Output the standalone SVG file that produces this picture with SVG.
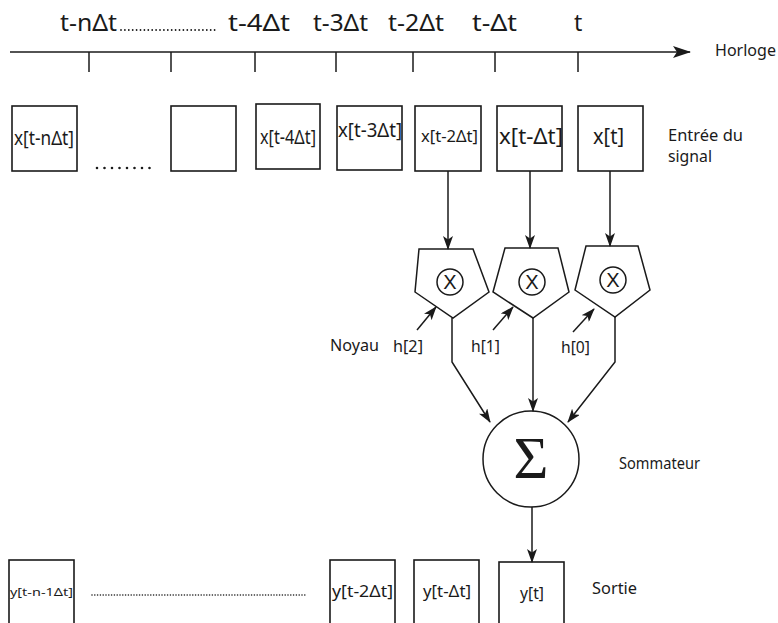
<svg xmlns="http://www.w3.org/2000/svg" width="778" height="623" viewBox="0 0 778 623">
<defs>
<marker id="ah" markerWidth="14" markerHeight="10" viewBox="0 0 14 10" refX="13" refY="5" orient="auto" markerUnits="userSpaceOnUse">
<path d="M0,0 L14,5 L0,10 L3.5,5 Z" fill="#1a1a1a"/>
</marker>
<marker id="ahbig" markerWidth="18" markerHeight="12" viewBox="0 0 18 12" refX="17" refY="6" orient="auto" markerUnits="userSpaceOnUse">
<path d="M0,0 L18,6 L0,12 L4,6 Z" fill="#1a1a1a"/>
</marker>
</defs>
<style>
.t{font-family:"Noto Sans","Open Sans",sans-serif;fill:#1a1a1a}
.box{fill:#fff;stroke:#1a1a1a;stroke-width:1.6}
.ln{fill:none;stroke:#1a1a1a;stroke-width:1.5}
.dots{fill:none;stroke:#1a1a1a;stroke-linecap:round}
.mx{font-family:"Liberation Sans",Arial,sans-serif;fill:#1a1a1a;font-size:20px}
</style>
<rect width="778" height="623" fill="#fff"/>

<g id="horloge">
<line class="ln" x1="10" y1="52" x2="690" y2="52" marker-end="url(#ahbig)"/>
<g class="ln">
<line x1="89" y1="52" x2="89" y2="72"/>
<line x1="171" y1="52" x2="171" y2="72"/>
<line x1="255" y1="52" x2="255" y2="72"/>
<line x1="336" y1="52" x2="336" y2="72"/>
<line x1="413" y1="52" x2="413" y2="72"/>
<line x1="495" y1="52" x2="495" y2="72"/>
<line x1="578" y1="52" x2="578" y2="72"/>
</g>
<text class="t" x="60" y="31" font-size="23" textLength="57" lengthAdjust="spacingAndGlyphs">t-nΔt</text>
<line class="dots" x1="121" y1="30" x2="215" y2="30" stroke-width="1.8" stroke-dasharray="0 3.9"/>
<text class="t" x="228" y="31" font-size="23" textLength="62" lengthAdjust="spacingAndGlyphs">t-4Δt</text>
<text class="t" x="313" y="31" font-size="23" textLength="55" lengthAdjust="spacingAndGlyphs">t-3Δt</text>
<text class="t" x="388" y="31" font-size="23" textLength="56" lengthAdjust="spacingAndGlyphs">t-2Δt</text>
<text class="t" x="472" y="31" font-size="23" textLength="45" lengthAdjust="spacingAndGlyphs">t-Δt</text>
<text class="t" x="574" y="31" font-size="23">t</text>
<text class="t" x="715" y="56" font-size="16.5" textLength="61" lengthAdjust="spacingAndGlyphs">Horloge</text>
</g>

<g id="entrees">
<g id="x-n"><rect class="box" x="12" y="106" width="65" height="65"/>
<text class="t" x="14" y="145" font-size="19" textLength="60" lengthAdjust="spacingAndGlyphs">x[t-nΔt]</text></g>
<line class="dots" x1="97" y1="168" x2="157" y2="168" stroke-width="2.6" stroke-dasharray="0 7.5"/>
<g id="x-vide"><rect class="box" x="171" y="106" width="65" height="65"/></g>
<g id="x-4"><rect class="box" x="256" y="104" width="64" height="65"/>
<text class="t" x="260" y="144" font-size="19" textLength="56" lengthAdjust="spacingAndGlyphs">x[t-4Δt]</text></g>
<g id="x-3"><rect class="box" x="337" y="106" width="65" height="64"/>
<text class="t" x="338" y="137" font-size="19" textLength="64" lengthAdjust="spacingAndGlyphs">x[t-3Δt]</text></g>
<g id="x-2"><rect class="box" x="415" y="106" width="66" height="65"/>
<text class="t" x="421" y="142" font-size="16.5" textLength="57" lengthAdjust="spacingAndGlyphs">x[t-2Δt]</text></g>
<g id="x-1"><rect class="box" x="497" y="106" width="65" height="65"/>
<text class="t" x="499" y="144" font-size="22" textLength="64" lengthAdjust="spacingAndGlyphs">x[t-Δt]</text></g>
<g id="x-0"><rect class="box" x="578" y="106" width="65" height="65"/>
<text class="t" x="593" y="144" font-size="22" textLength="31" lengthAdjust="spacingAndGlyphs">x[t]</text></g>
<text class="t" x="668" y="141" font-size="17" textLength="75" lengthAdjust="spacingAndGlyphs">Entrée du</text>
<text class="t" x="668" y="162" font-size="17" textLength="44" lengthAdjust="spacingAndGlyphs">signal</text>
</g>

<g id="multiplieurs">
<g id="m2"><polygon class="ln" points="419,249 473,249 489,292 453,318 415,292"/>
<circle class="ln" cx="450" cy="282" r="13"/>
<text class="mx" x="450" y="289" text-anchor="middle">X</text></g>
<g id="m1"><polygon class="ln" points="505,248 558,248 569,292 533,318 493,292"/>
<circle class="ln" cx="532" cy="282" r="13"/>
<text class="mx" x="532" y="289" text-anchor="middle">X</text></g>
<g id="m0"><polygon class="ln" points="586,246 638,246 650,290 615,317 575,290"/>
<circle class="ln" cx="613" cy="280" r="13"/>
<text class="mx" x="613" y="287" text-anchor="middle">X</text></g>
<text class="t" x="330" y="351" font-size="16.5" textLength="49" lengthAdjust="spacingAndGlyphs">Noyau</text>
<text class="t" x="393" y="352" font-size="16.5" textLength="30" lengthAdjust="spacingAndGlyphs">h[2]</text>
<text class="t" x="471" y="352" font-size="16.5" textLength="29" lengthAdjust="spacingAndGlyphs">h[1]</text>
<text class="t" x="561" y="353" font-size="16.5" textLength="29" lengthAdjust="spacingAndGlyphs">h[0]</text>
</g>

<g id="sommateur">
<circle class="ln" cx="531" cy="459" r="48"/>
<text x="531" y="478" font-family="'Liberation Serif','DejaVu Serif',serif" font-size="60" text-anchor="middle" fill="#1a1a1a">Σ</text>
<text class="t" x="619" y="469" font-size="16.5" textLength="81" lengthAdjust="spacingAndGlyphs">Sommateur</text>
</g>

<g id="sorties">
<g id="y-n"><rect class="box" x="9" y="560" width="65" height="75"/>
<text class="t" x="10" y="596" font-size="10.5" textLength="63" lengthAdjust="spacingAndGlyphs">y[t-n-1Δt]</text></g>
<line class="dots" x1="92" y1="595" x2="305" y2="595" stroke-width="1.6" stroke-dasharray="0 2.8"/>
<g id="y-2"><rect class="box" x="330" y="560" width="65" height="75"/>
<text class="t" x="332" y="597" font-size="17" textLength="61" lengthAdjust="spacingAndGlyphs">y[t-2Δt]</text></g>
<g id="y-1"><rect class="box" x="414" y="560" width="65" height="75"/>
<text class="t" x="423" y="597" font-size="16" textLength="48" lengthAdjust="spacingAndGlyphs">y[t-Δt]</text></g>
<g id="y-0"><rect class="box" x="499" y="562" width="65" height="75"/>
<text class="t" x="520" y="599" font-size="16" textLength="24" lengthAdjust="spacingAndGlyphs">y[t]</text></g>
<text class="t" x="592" y="594" font-size="16.5" textLength="45" lengthAdjust="spacingAndGlyphs">Sortie</text>
</g>

<g id="connecteurs">
<line class="ln" x1="448" y1="171" x2="448" y2="249" marker-end="url(#ah)"/>
<line class="ln" x1="530" y1="171" x2="530" y2="248" marker-end="url(#ah)"/>
<line class="ln" x1="610" y1="171" x2="610" y2="246" marker-end="url(#ah)"/>
<line class="ln" x1="417" y1="330" x2="436" y2="307" marker-end="url(#ah)"/>
<line class="ln" x1="493" y1="330" x2="513" y2="307" marker-end="url(#ah)"/>
<line class="ln" x1="573" y1="332" x2="594" y2="309" marker-end="url(#ah)"/>
<path class="ln" d="M452,318 V362 L490,422" marker-end="url(#ah)"/>
<line class="ln" x1="533" y1="318" x2="533" y2="411" marker-end="url(#ah)"/>
<path class="ln" d="M615,317 V362 L568,422" marker-end="url(#ah)"/>
<line class="ln" x1="532" y1="507" x2="532" y2="562" marker-end="url(#ah)"/>
</g>
</svg>
